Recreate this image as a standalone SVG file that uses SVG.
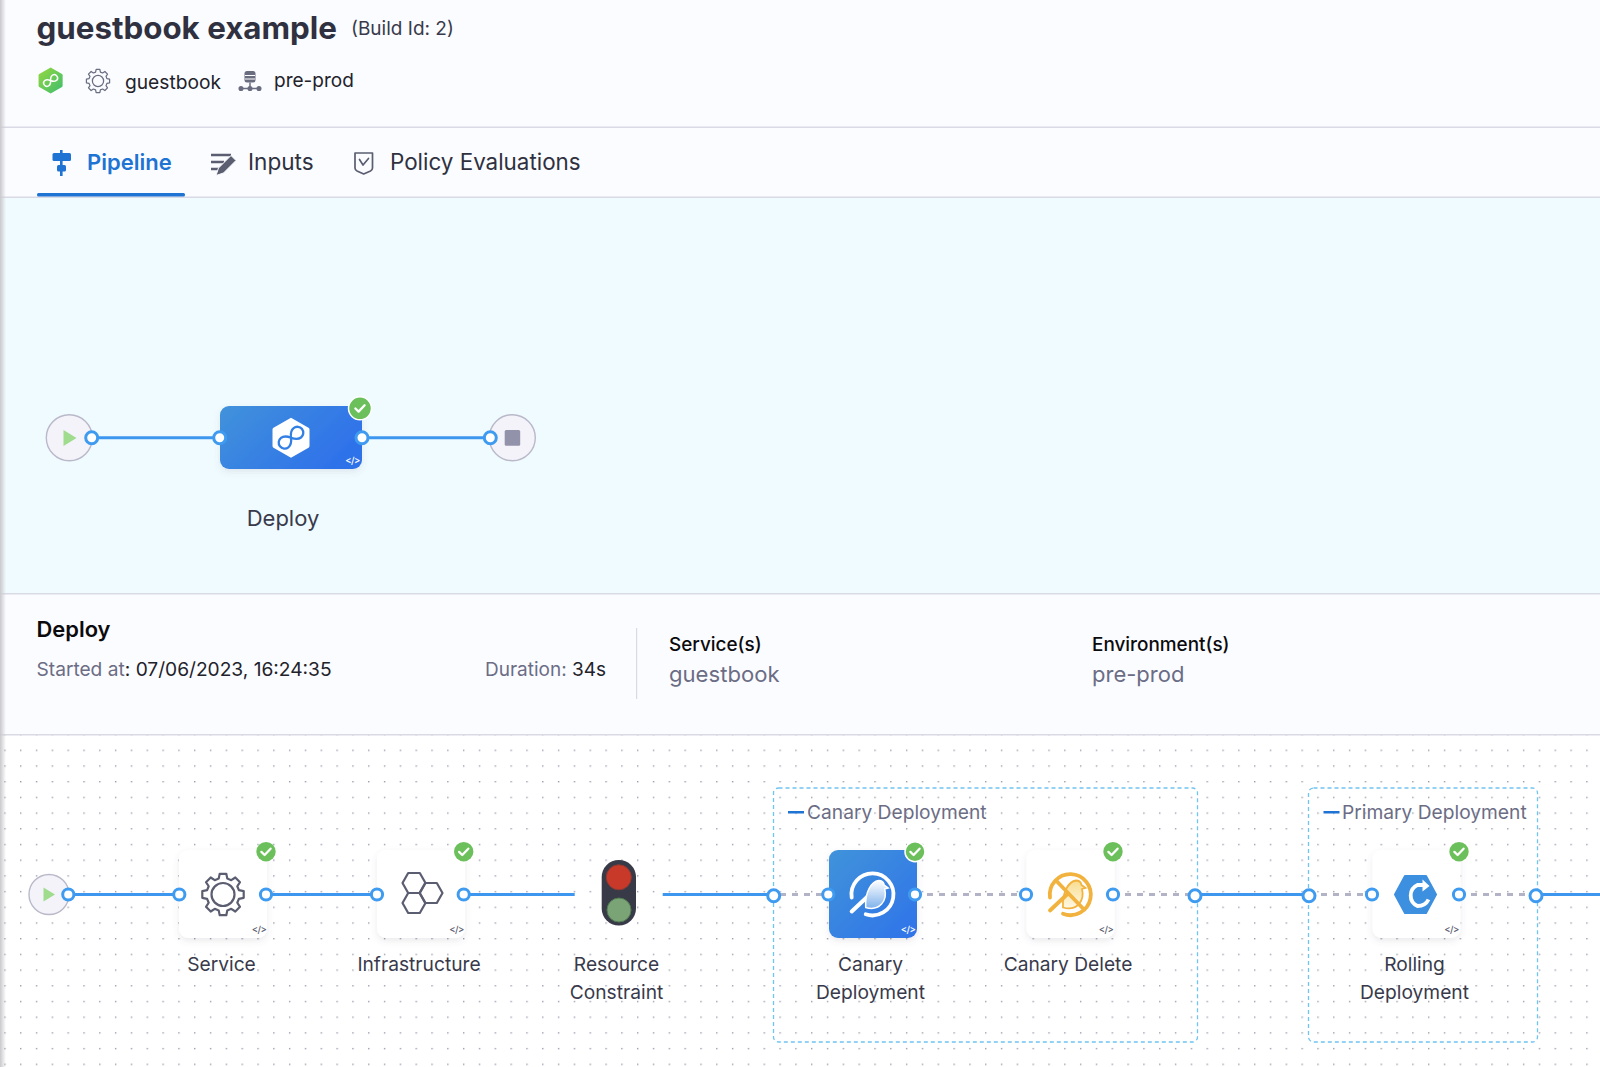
<svg xmlns="http://www.w3.org/2000/svg" width="1600" height="1067" viewBox="0 0 1600 1067">
<style>
text{font-family:Inter,"Noto Sans","Liberation Sans",sans-serif;}
.lbl{font-size:19.2px;fill:#383a4b;text-anchor:middle;}
.grp{font-size:19.2px;fill:#6b6d85;}
.conn{fill:none;stroke:#3d97ee;stroke-width:3;}
.dash{fill:none;stroke:#b2b3c6;stroke-width:3;stroke-dasharray:6 6;}
.port{fill:#fff;stroke:#3f9bf0;stroke-width:3;}
.card{fill:#fff;filter:url(#sh);}
.start{fill:#f4f3fa;stroke:#b9b9c9;stroke-width:1.4;}
.code{font-size:9.5px;font-weight:500;letter-spacing:-0.6px;text-anchor:middle;}
.box{fill:none;stroke:#6fc4f2;stroke-width:1.3;stroke-dasharray:4 3;}
.gd{fill:none;stroke:#5b5d70;stroke-width:2.2;stroke-linejoin:round;}
</style>
<defs>
<filter id="sh" x="-30%" y="-30%" width="160%" height="170%"><feDropShadow dx="0" dy="3" stdDeviation="3" flood-color="#60617a" flood-opacity="0.13"/></filter>
<linearGradient id="blue" x1="0" y1="0" x2="1" y2="1"><stop offset="0" stop-color="#4093da"/><stop offset="1" stop-color="#2f73ea"/></linearGradient>
<linearGradient id="blue2" x1="0" y1="0" x2="1" y2="0.45"><stop offset="0" stop-color="#4192db"/><stop offset="1" stop-color="#2f72ea"/></linearGradient>
<linearGradient id="green" x1="0" y1="0" x2="1" y2="1"><stop offset="0" stop-color="#96d83f"/><stop offset="1" stop-color="#3dbd6e"/></linearGradient>
<linearGradient id="birdW" x1="0" y1="0" x2="0" y2="1"><stop offset="0" stop-color="#fff"/><stop offset="1" stop-color="#7fb2ec"/></linearGradient>
<linearGradient id="birdY" x1="0" y1="0" x2="0" y2="1"><stop offset="0" stop-color="#f8dd8f"/><stop offset="1" stop-color="#fff8e4"/></linearGradient>
<linearGradient id="edge" x1="0" y1="0" x2="1" y2="0"><stop offset="0" stop-color="#c9c9cd"/><stop offset="1" stop-color="#c9c9cd" stop-opacity="0"/></linearGradient>
<pattern id="dots" x="4.2" y="781" width="15.82" height="15.7" patternUnits="userSpaceOnUse"><rect width="1.4" height="1.4" fill="#9a9cac"/></pattern>
<g id="ok"><path d="M-4.6 0.2 L-1.4 3.3 L4.6 -3" fill="none" stroke="#fff" stroke-width="2.3" stroke-linecap="round" stroke-linejoin="round"/></g>
<path id="gear" d="M20.7 -3.3L20.7 3.3L15.9 4.3L14.3 8.25L17 12.3L12.3 17L8.25 14.3L4.3 15.9L3.3 20.7L-3.3 20.7L-4.3 15.9L-8.25 14.3L-12.3 17L-17 12.3L-14.3 8.25L-15.9 4.3L-20.7 3.3L-20.7 -3.3L-15.9 -4.3L-14.3 -8.25L-17 -12.3L-12.3 -17L-8.25 -14.3L-4.3 -15.9L-3.3 -20.7L3.3 -20.7L4.3 -15.9L8.25 -14.3L12.3 -17L17 -12.3L14.3 -8.25L15.9 -4.3Z"/>
<path id="inf" d="M0 0 C3 -5 6 -6 8 -6 A6 6 0 0 1 8 6 C6 6 3 5 0 0 C-3 -5 -6 -6 -8 -6 A6 6 0 0 0 -8 6 C-6 6 -3 5 0 0Z" fill="none"/>
<path id="hexv" d="M0 -20 L17.5 -10 Q18.5 -9.4 18.5 -8 L18.5 8 Q18.5 9.4 17.5 10 L0 20 L-17.5 10 Q-18.5 9.4 -18.5 8 L-18.5 -8 Q-18.5 -9.4 -17.5 -10Z"/>
<path id="hexh" d="M-11.5 0 L-5.8 -10 L5.8 -10 L11.5 0 L5.8 10 L-5.8 10Z"/>
</defs>

<rect width="1600" height="1067" fill="#fff"/>
<rect width="1600" height="197" fill="#fbfcff"/>
<rect y="197" width="1600" height="397" fill="#f0fbff"/>
<rect y="594" width="1600" height="140" fill="#fbfcff"/>
<rect y="735" width="1600" height="332" fill="url(#dots)"/>
<rect y="126.5" width="1600" height="1.5" fill="#d9dae5"/>
<rect y="196.5" width="1600" height="1.5" fill="#d9dae5"/>
<rect y="593" width="1600" height="1.5" fill="#d9dae5"/>
<rect y="734" width="1600" height="1.5" fill="#d9dae5"/>
<rect width="6" height="1067" fill="url(#edge)"/>

<g id="header">
<text x="36.500" y="39" font-size="31.300" font-weight="700" fill="#2f3140">guestbook example</text>
<text x="351" y="34.500" font-size="19" fill="#383a4b">(Build Id: 2)</text>
<g transform="translate(50.600 80.500) scale(0.65)"><use href="#hexv" fill="url(#green)"/><use href="#inf" transform="rotate(-35) scale(0.85)" stroke="#fff" stroke-width="2.600"/></g>
<g transform="translate(98 81) scale(0.56)"><use href="#gear" fill="none" stroke="#6a6c80" stroke-width="2.200" stroke-linejoin="round"/><circle r="10" fill="none" stroke="#6a6c80" stroke-width="2.200"/></g>
<text x="125" y="88.500" font-size="19.200" fill="#22222a">guestbook</text>
<g id="env-icon" fill="none" stroke="#6a6c80" stroke-width="1.500"><rect x="244.500" y="71" width="11" height="11.500" rx="2.500" fill="#6a6c80" stroke="none"/><path d="M245 75.500H255M245 79H255" stroke="#fff" stroke-width="1"/><path d="M250 82.500V88.500M241 88.500H259"/><circle cx="241" cy="88.500" r="1.800" fill="#6a6c80"/><circle cx="250" cy="88.500" r="1.800" fill="#6a6c80"/><circle cx="259" cy="88.500" r="1.800" fill="#6a6c80"/></g>
<text x="274" y="87" font-size="19" fill="#22222a">pre-prod</text>
</g>

<g id="tabs">
<g id="tab-pipeline-icon" fill="#1f73d3"><rect x="60" y="150" width="2.600" height="26"/><rect x="52.500" y="153" width="18.500" height="8" rx="1.500"/><rect x="57" y="165" width="9" height="6.500" rx="1.500"/></g>
<text x="87" y="170" font-size="22" font-weight="600" fill="#1f73d3">Pipeline</text>
<rect x="37" y="193" width="148" height="3.500" rx="1.500" fill="#1f73d3"/>
<g id="tab-inputs-icon"><path d="M211 155H231M211 162H224M211 169H219" stroke="#5b5d70" stroke-width="2.400" fill="none"/><path d="M216 175.500L218.500 168L231 155.500L236 160.500L223.500 173Z" fill="#5b5d70" stroke="#fbfcff" stroke-width="1"/></g>
<text x="248" y="170" font-size="22.600" fill="#2f3140">Inputs</text>
<g id="tab-policy-icon" fill="none" stroke="#5b5d70" stroke-width="1.700" stroke-linejoin="round"><path d="M355 153H372.500V168Q372.500 170 370.500 171L363.700 174L357 171Q355 170 355 168Z"/><path d="M359.500 159.500L363 165L368.500 158.500" stroke-linecap="round"/></g>
<text x="390" y="170" font-size="22.400" fill="#2f3140">Policy Evaluations</text>
</g>

<g id="connectors">
<path class="conn" d="M92 437.700H220M362 437.700H490"/>
<path class="conn" d="M68 894.500H179M266 894.500H377M464 894.500H574.700M662.700 894.500H774M1195 894.500H1309M1536 894.500H1600"/>
<path class="dash" d="M780 894.500H828M915 894.500H1026M1113 894.500H1195M1309 894.500H1372M1459 894.500H1536"/>
</g>

<g id="stage-start"><circle class="start" cx="69.300" cy="437.700" r="23"/><path d="M63.500 430L76.500 438L63.500 446Z" fill="#9fdc8d"/><circle class="port" cx="91.700" cy="437.700" r="6"/></g>
<g id="stage-deploy">
<rect x="220" y="406" width="142" height="63" rx="9" fill="url(#blue2)" filter="url(#sh)"/>
<use href="#hexv" transform="translate(291 437.700)" fill="#fff"/>
<use href="#inf" transform="translate(291 437.700) rotate(-38) scale(1)" stroke="#3380e4" stroke-width="2.300"/>
<text class="code" x="352.500" y="464" fill="#fff">&lt;/&gt;</text>
<circle class="port" cx="219.700" cy="437.700" r="6"/><circle class="port" cx="362" cy="437.700" r="6"/>
<circle cx="360" cy="408.300" r="11.500" fill="#6cc05c" stroke="#fff" stroke-width="1.500"/><use href="#ok" x="360" y="408.300"/>
<text class="lbl" x="283" y="525.500" style="font-size:22px">Deploy</text>
</g>
<g id="stage-end"><circle class="start" cx="512.300" cy="437.700" r="23"/><rect x="504.700" y="430" width="15.500" height="15.700" rx="1.500" fill="#9292aa"/><circle class="port" cx="490.300" cy="437.700" r="6"/></g>

<g id="info-panel">
<text x="36.500" y="636.500" font-size="21.900" font-weight="600" fill="#0b0b0d">Deploy</text>
<text x="36.500" y="675.500" font-size="19.150"><tspan fill="#6b6d85">Started at</tspan><tspan fill="#22222a">: 07/06/2023, 16:24:35</tspan></text>
<text x="485" y="675.500" font-size="19"><tspan fill="#6b6d85">Duration: </tspan><tspan fill="#22222a">34s</tspan></text>
<rect x="636" y="628" width="1.200" height="71" fill="#d9dae5"/>
<text x="669" y="650.500" font-size="18.900" font-weight="500" fill="#0b0b0d">Service(s)</text>
<text x="669" y="682" font-size="22.100" fill="#6b6d85">guestbook</text>
<text x="1092" y="650.500" font-size="18.900" font-weight="500" fill="#0b0b0d">Environment(s)</text>
<text x="1092" y="682" font-size="22" fill="#6b6d85">pre-prod</text>
</g>

<g id="group-canary"><rect class="box" x="773.500" y="788" width="424" height="254" rx="5"/><rect x="788" y="811" width="16" height="2.500" fill="#1f73d3"/><text class="grp" x="807" y="819">Canary Deployment</text></g>
<g id="group-primary"><rect class="box" x="1308.500" y="788" width="229" height="254" rx="5"/><rect x="1323.500" y="811" width="16" height="2.500" fill="#1f73d3"/><text class="grp" x="1342" y="819">Primary Deployment</text></g>

<g id="start-step"><circle class="start" cx="49" cy="894.500" r="20"/><path d="M43.500 887.500L55 894.500L43.500 901.500Z" fill="#9fdc8d"/><circle class="port" cx="68.300" cy="894.500" r="5.600"/></g>

<g id="node-service">
<rect class="card" x="179" y="850" width="88" height="88" rx="9"/>
<use href="#gear" transform="translate(223 894.500)" class="gd"/><circle cx="223" cy="894.500" r="11.500" class="gd"/>
<text class="code" x="259" y="933" fill="#5b5d70">&lt;/&gt;</text>
<circle class="port" cx="179.300" cy="894.500" r="5.600"/><circle class="port" cx="266" cy="894.500" r="5.600"/>
<circle cx="266" cy="851.700" r="9.700" fill="#6cc05c"/><use href="#ok" x="266" y="851.700"/>
<text class="lbl" x="221.500" y="970.500">Service</text>
</g>

<g id="node-infrastructure">
<rect class="card" x="377" y="850" width="88" height="88" rx="9"/>
<use href="#hexh" transform="translate(414 883)" class="gd"/><use href="#hexh" transform="translate(431 893)" class="gd"/><use href="#hexh" transform="translate(414 903)" class="gd"/>
<text class="code" x="456.500" y="933" fill="#5b5d70">&lt;/&gt;</text>
<circle class="port" cx="377" cy="894.500" r="5.600"/><circle class="port" cx="463.700" cy="894.500" r="5.600"/>
<circle cx="463.700" cy="851.700" r="9.700" fill="#6cc05c"/><use href="#ok" x="463.700" y="851.700"/>
<text class="lbl" x="419" y="970.500">Infrastructure</text>
</g>

<g id="node-resource-constraint">
<rect x="601.700" y="860" width="34.300" height="65.500" rx="17" fill="#393a48"/>
<circle cx="618.800" cy="877.300" r="12.500" fill="#c9392a" stroke="#8e3a30" stroke-width="1"/>
<circle cx="619" cy="910" r="12" fill="#7aa376" stroke="#4f7a50" stroke-width="1"/>
<text class="lbl" x="616.500" y="970.500">Resource</text><text class="lbl" x="616.500" y="999">Constraint</text>
</g>
<circle class="port" id="group-canary-in" cx="773.700" cy="895.700" r="6"/>

<g id="node-canary-deployment">
<rect x="829" y="850" width="88" height="88" rx="9" fill="url(#blue)" filter="url(#sh)"/>
<g transform="translate(872.700 894.500)">
<path d="M-21 3 A21 21 0 1 1 -7 19.800" fill="none" stroke="#fff" stroke-width="3.800" stroke-linecap="round"/>
<path d="M-21 17 L-4 1" stroke="#fff" stroke-width="4" stroke-linecap="round"/>
<path d="M-7 13 C-8 -3 -1 -13 6 -14 C9 -14 11 -12 11.500 -9.500 L15.500 -6.500 L12 -5.500 C15 6 7 17 -7 13Z" fill="url(#birdW)" stroke="#fff" stroke-width="1.500"/>
</g>
<text class="code" x="908" y="933" fill="#fff">&lt;/&gt;</text>
<circle class="port" cx="828.300" cy="894.500" r="5.600"/><circle class="port" cx="915" cy="894.500" r="5.600"/>
<circle cx="915" cy="851.700" r="10" fill="#6cc05c" stroke="#fff" stroke-width="1.500"/><use href="#ok" x="915" y="851.700"/>
<text class="lbl" x="870.500" y="970.500">Canary</text><text class="lbl" x="870.500" y="999">Deployment</text>
</g>

<g id="node-canary-delete">
<rect class="card" x="1026.500" y="850" width="88" height="88" rx="9"/>
<g transform="translate(1070 894.500)">
<path d="M-7 13 C-8 -3 -1 -13 6 -14 C9 -14 11 -12 11.500 -9.500 L15.500 -6.500 L12 -5.500 C15 6 7 17 -7 13Z" fill="url(#birdY)" stroke="#f2b23e" stroke-width="1.800"/>
<path d="M-20 3 A20.500 20.500 0 1 1 -7 19.300" fill="none" stroke="#f2b23e" stroke-width="3.800" stroke-linecap="round"/>
<path d="M-14 -14 L14 15 M-20 16 L-2 -1" stroke="#f2b23e" stroke-width="3.800" stroke-linecap="round"/>
</g>
<text class="code" x="1106" y="933" fill="#5b5d70">&lt;/&gt;</text>
<circle class="port" cx="1026" cy="894.500" r="5.600"/><circle class="port" cx="1113" cy="894.500" r="5.600"/>
<circle cx="1113" cy="851.700" r="9.700" fill="#6cc05c"/><use href="#ok" x="1113" y="851.700"/>
<text class="lbl" x="1068" y="970.500">Canary Delete</text>
</g>
<circle class="port" id="group-canary-out" cx="1195" cy="895.700" r="6"/>
<circle class="port" id="group-primary-in" cx="1309" cy="895.700" r="6"/>

<g id="node-rolling-deployment">
<rect class="card" x="1372.500" y="850" width="88" height="88" rx="9"/>
<g transform="translate(1415.500 894.500)">
<path d="M-20.500 0 L-10.500 -18.500 L10.500 -18.500 L20.500 0 L10.500 18.500 L-10.500 18.500Z" fill="#3d8fdf" stroke="#3d8fdf" stroke-width="2" stroke-linejoin="round"/>
<path d="M13 5 Q10 11.500 2 11.500 A11.500 11.500 0 0 1 2 -9.500 L9 -9.500" fill="none" stroke="#fff" stroke-width="3.800"/>
<path d="M7 -15 L14 -8.500 L7 -3Z" fill="#fff"/>
</g>
<text class="code" x="1451.500" y="933" fill="#5b5d70">&lt;/&gt;</text>
<circle class="port" cx="1372" cy="894.500" r="5.600"/><circle class="port" cx="1459" cy="894.500" r="5.600"/>
<circle cx="1459" cy="851.700" r="9.700" fill="#6cc05c"/><use href="#ok" x="1459" y="851.700"/>
<text class="lbl" x="1414.500" y="970.500">Rolling</text><text class="lbl" x="1414.500" y="999">Deployment</text>
</g>
<circle class="port" id="group-primary-out" cx="1536" cy="895.700" r="6"/>
</svg>
